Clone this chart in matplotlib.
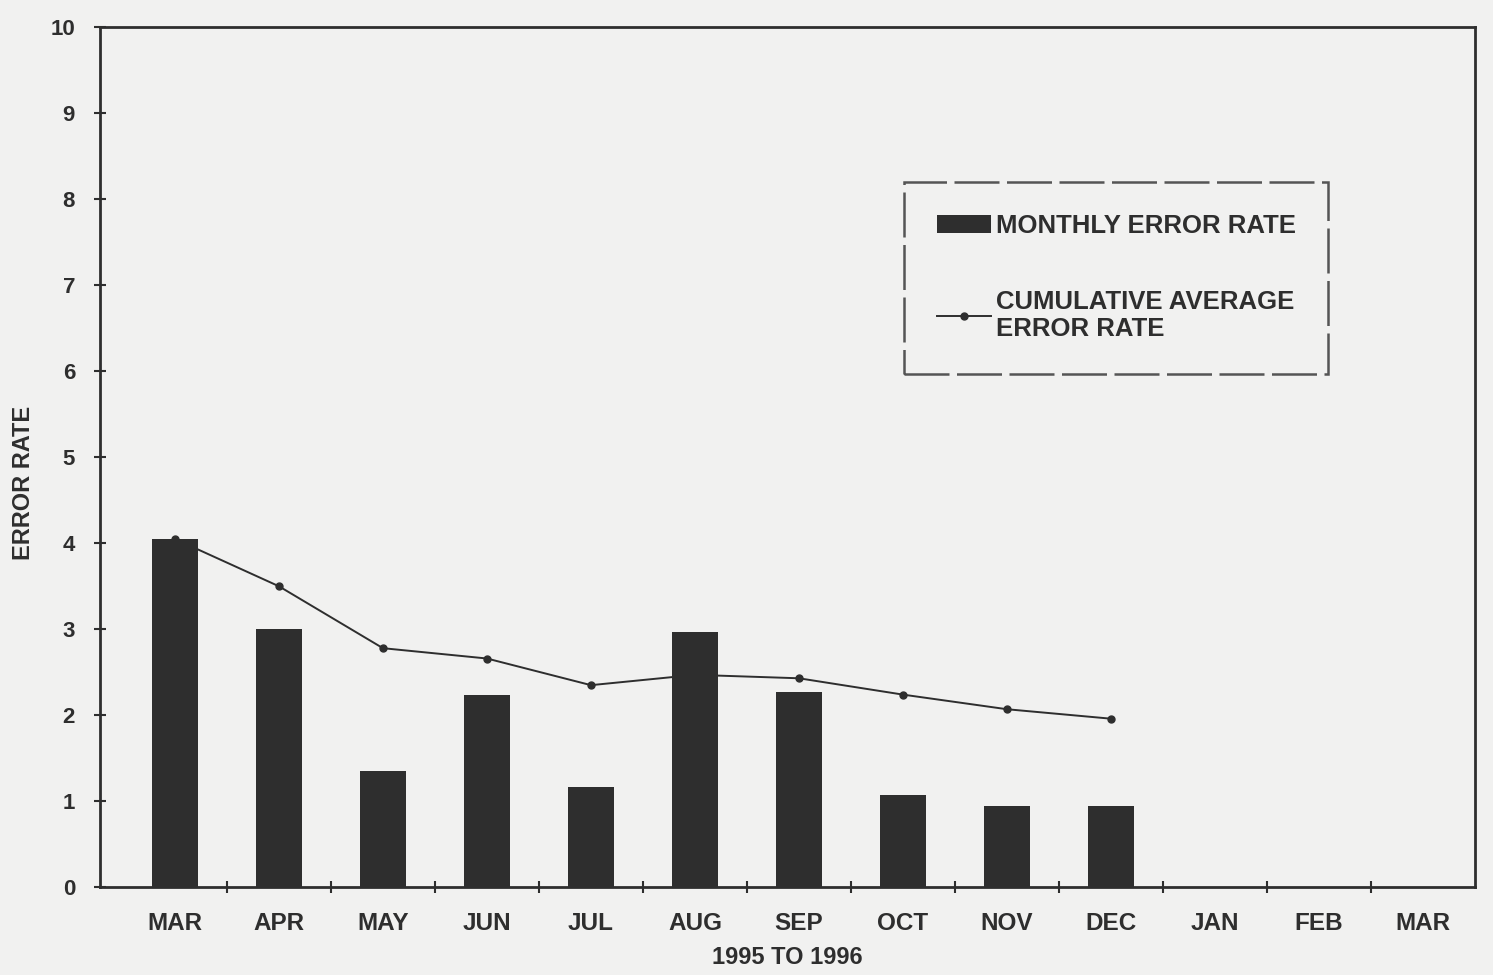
import matplotlib.pyplot as plt
import numpy as np

months = ["MAR", "APR", "MAY", "JUN", "JUL", "AUG", "SEP",
          "OCT", "NOV", "DEC", "JAN", "FEB", "MAR"]
monthly_rate = [4.05, 3.0, 1.35, 2.23, 1.17, 2.97, 2.27, 1.07, 0.95, 0.94]
cumulative_avg = [4.05, 3.5, 2.78, 2.66, 2.35, 2.47, 2.43, 2.24, 2.07, 1.96]
y_ticks = [0, 1, 2, 3, 4, 5, 6, 7, 8, 9, 10]

plt.rcParams['font.family'] = ['Liberation Sans', 'DejaVu Sans']
plt.rcParams['font.weight'] = 'bold'
plt.rcParams['axes.labelweight'] = 'bold'

ink = "#2e2e2e"
paper = "#f1f1f0"

fig = plt.figure(figsize=(14.93, 9.75), dpi=100, facecolor=paper)
ax = fig.add_axes([0.067, 0.09, 0.921, 0.882])
ax.set_facecolor(paper)

x = np.arange(len(monthly_rate))
line, = ax.plot(x, cumulative_avg, color=ink, lw=1.4, marker="o", ms=5,
                zorder=2, label="CUMULATIVE AVERAGE\nERROR RATE")
bars = ax.bar(x, monthly_rate, width=0.45, color=ink, zorder=3,
              label="MONTHLY ERROR RATE")

ax.set_xlim(-0.72, 12.5)
ax.set_ylim(0, 10)
ax.set_yticks(y_ticks)
ax.set_xticks(np.arange(len(months)))
ax.set_xticklabels(months)
ax.set_xticks(np.arange(len(months) - 1) + 0.5, minor=True)
ax.tick_params(axis="x", which="major", length=0, pad=18, labelsize=17.5, colors=ink)
ax.tick_params(axis="x", which="minor", length=8, width=1.5, direction="inout", color=ink)
ax.tick_params(axis="y", length=8, width=1.5, direction="inout", pad=14,
               labelsize=16, colors=ink)

for s in ax.spines.values():
    s.set_linewidth(2)
    s.set_color(ink)

ax.set_ylabel("ERROR RATE", fontsize=17, color=ink)
ax.yaxis.set_label_coords(-0.047, 0.47)
ax.set_xlabel("1995 TO 1996", fontsize=17, color=ink, labelpad=8)

leg = ax.legend(handles=[bars, line], loc="upper left", bbox_to_anchor=(0.585, 0.82),
                fontsize=18.5, frameon=True, fancybox=False, handlelength=2.1,
                handletextpad=0.2, labelspacing=2.0, borderpad=1.25,
                borderaxespad=0, labelcolor=ink)
frame = leg.get_frame()
frame.set_edgecolor(ink)
frame.set_linewidth(1.8)
frame.set_linestyle((0, (18, 3)))
frame.set_facecolor(paper)

fig.savefig("out.png", dpi=100, facecolor=paper)
